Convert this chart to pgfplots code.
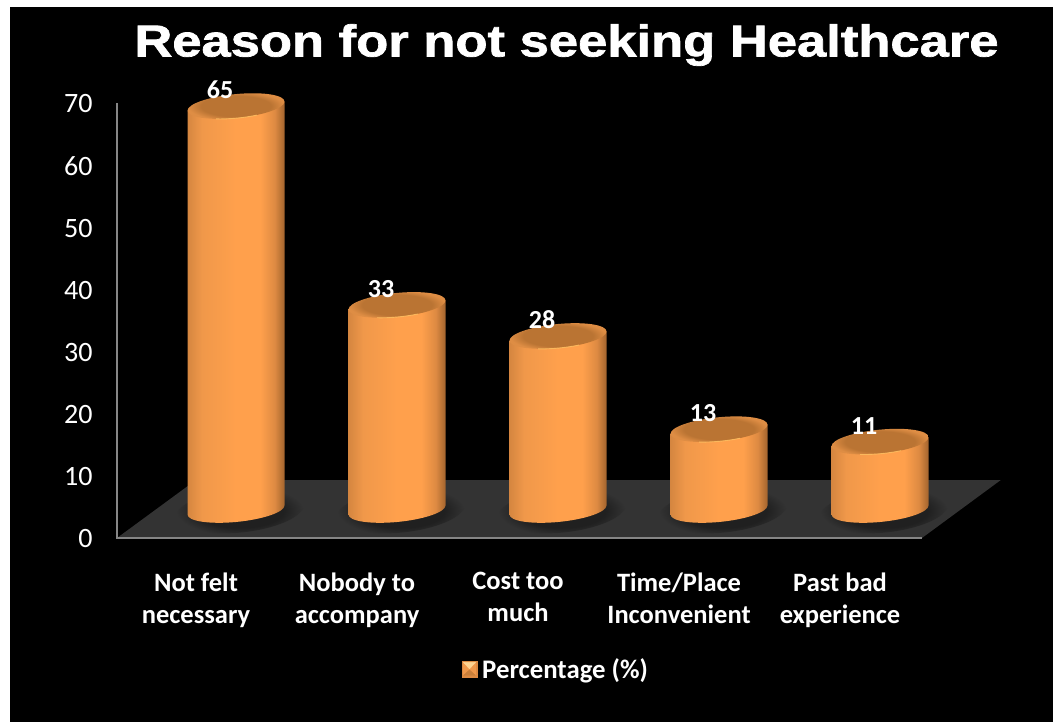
\documentclass[border=0pt]{standalone}
\usepackage{pgfplots}
\pgfplotsset{compat=1.18}
\usepackage{fontspec}
\setmainfont{Carlito}
\newfontfamily\titlefont[FakeStretch=1.178,FakeBold=1.6]{Liberation Sans Bold}

\definecolor{cylA}{HTML}{D58640}
\definecolor{cylB}{HTML}{F0984A}
\definecolor{cylC}{HTML}{FFA04C}
\definecolor{cylD}{HTML}{DD8A42}
\definecolor{cylE}{HTML}{A3642E}
\definecolor{capIn}{HTML}{BA7433}
\definecolor{capOut}{HTML}{DE8D44}
\definecolor{capGlint}{HTML}{FFC263}
\definecolor{floorgrey}{HTML}{333333}
\definecolor{shadowgrey}{HTML}{202020}
\definecolor{axisgrey}{HTML}{868686}

\pgfdeclarehorizontalshading{cylbody}{100bp}{
  color(0bp)=(cylA); color(25bp)=(cylA); color(32.5bp)=(cylB);
  color(50bp)=(cylC); color(62.5bp)=(cylC); color(70bp)=(cylD);
  color(75bp)=(cylE); color(100bp)=(cylE)}
\pgfdeclareradialshading{cylcap}{\pgfpoint{0bp}{0bp}}{
  color(0bp)=(capIn); color(18bp)=(capIn); color(25bp)=(capOut); color(50bp)=(capOut)}
\pgfdeclareradialshading{cylshadow}{\pgfpoint{0bp}{0bp}}{
  color(0bp)=(shadowgrey); color(17bp)=(shadowgrey); color(25bp)=(floorgrey); color(50bp)=(floorgrey)}

% One cylinder, drawn downward from the centre of its top face; \barval is the data value.
\pgfdeclareplotmark{cylinder}{%
  \pgfscope
  \pgfmathsetlengthmacro{\barh}{\barval*6.214pt}%
  \pgftransformshift{\pgfpoint{40pt}{28pt}}%
  \pgftransformcm{1}{0.093}{0}{1}{\pgfpointorigin}%
  \shade[draw=none,shading=cylshadow] (4pt,-\barh-1pt) ellipse (64pt and 22pt);
  \shade[draw=none,shading=cylbody] (-48.5pt,0pt) -- (-48.5pt,-\barh)
    arc[start angle=180,end angle=360,x radius=48.5pt,y radius=12pt]
    -- (48.5pt,0pt) -- cycle;
  \shade[draw=none,shading=cylcap] (0pt,0pt) ellipse (48.5pt and 12pt);
  \draw[draw=capGlint,fill=none,line width=0.9pt,opacity=0.8]
    (-20pt,-11pt) arc[start angle=245,end angle=295,x radius=48.5pt,y radius=12pt];
  \endpgfscope
}

\pgfplotstableread{
pos v
0 65
1 33
2 28
3 13
4 11
}\reasons

\begin{document}
\begin{tikzpicture}[x=1pt,y=1pt]
  \path[use as bounding box,fill=white] (0,0) rectangle (1053,722);
  \fill[black] (10,0) rectangle (1053,715);
  \begin{axis}[
    at={(117pt,184pt)},anchor=south west,
    scale only axis,width=805pt,height=435pt,
    xmin=-0.4907,xmax=4.509,ymin=0,ymax=70,
    clip=false,
    axis lines*=left,
    axis line style={draw=none},
    major tick length=0pt,
    ytick={0,10,...,70},
    xtick={0,1,2,3,4},
    xticklabels={{Not felt\\necessary},{Nobody to\\accompany},{Cost too\\much},{Time/Place\\Inconvenient},{Past bad\\experience}},
    /pgf/number format/assume math mode=true,
    y tick label style={font=\fontsize{28}{32}\selectfont,text=white,anchor=east,xshift=-21pt,yshift=-1pt},
    x tick label style={font=\fontsize{26.5}{32}\selectfont\bfseries,text=white,align=center,anchor=north,yshift=-31pt},
    title={\titlefont Reason for not seeking Healthcare},
    title style={at={(0.5,1)},font=\fontsize{44.6}{50}\selectfont,text=white,anchor=center,xshift=47pt,yshift=52pt},
    legend style={at={(0.5452,-0.301)},anchor=center,draw=none,fill=none,
      font=\fontsize{26.8}{30}\selectfont\bfseries,text=white,
      legend cell align=left,inner sep=0pt},
  ]
    % floor of the chart, behind the cylinders
    \addplot[forget plot,fill=floorgrey,draw=none] coordinates
      {(-0.4907,0) (4.509,0) (4.9984,9.33) (0,9.33)} -- cycle;
    % the two chart walls in grey
    \addplot[forget plot,draw=axisgrey,line width=2.4pt] coordinates
      {(-0.4907,70) (-0.4907,0) (4.509,0)};
    % cylinders, base raised onto the middle of the floor
    \addplot[
      only marks,mark=cylinder,
      visualization depends on={\thisrow{v}\as\barval},
      nodes near coords,
      every node near coord/.append style={font=\fontsize{26}{30}\selectfont\bfseries,text=white,
        anchor=center,xshift=24pt,yshift=44pt},
      legend image code/.code={
        \fill[cylD] (0pt,-8pt) rectangle (15pt,8pt);
        \fill[cylB] (1.5pt,-6.5pt) rectangle (13.5pt,6.5pt);
        \fill[capIn!70!cylB] (1.5pt,-6.5pt) -- (13.5pt,-6.5pt) -- (7.5pt,-1pt) -- cycle;
        \fill[capGlint!70!white] (1.5pt,6.5pt) -- (13.5pt,6.5pt) -- (7.5pt,0pt) -- cycle;
      },
    ] table[x=pos,y=v] {\reasons};
    \addlegendentry{\hspace*{3pt}Percentage (\%)}
  \end{axis}
\end{tikzpicture}
\end{document}
